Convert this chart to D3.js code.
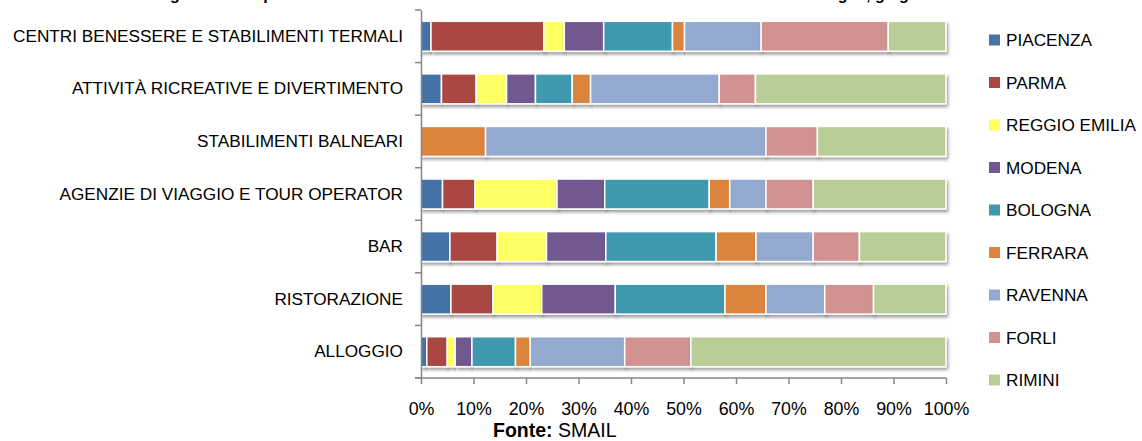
<!DOCTYPE html>
<html>
<head>
<meta charset="utf-8">
<script src="https://cdn.jsdelivr.net/npm/d3@7"></script>
<style>
  html, body { margin: 0; padding: 0; background: #fff; }
  svg { display: block; }
</style>
</head>
<body>
<svg id="chart" width="1142" height="441"></svg>
<script>
// Sectors (top to bottom) and provinces (stack order, left to right)
const categories = [
  "CENTRI BENESSERE E STABILIMENTI TERMALI",
  "ATTIVITÀ RICREATIVE E DIVERTIMENTO",
  "STABILIMENTI BALNEARI",
  "AGENZIE DI VIAGGIO E TOUR OPERATOR",
  "BAR",
  "RISTORAZIONE",
  "ALLOGGIO"
];
const provinces = ["PIACENZA", "PARMA", "REGGIO EMILIA", "MODENA", "BOLOGNA", "FERRARA", "RAVENNA", "FORLI", "RIMINI"];

// Share (%) of each sector's firms by province, in category order
const piacenza = [1.9, 3.9, 0.0, 4.1, 5.5, 5.7, 1.1];
const parma    = [21.5, 6.6, 0.0, 6.2, 9.0, 8.0, 3.9];
const reggio   = [3.9, 5.8, 0.0, 15.6, 9.4, 9.3, 1.5];
const modena   = [7.5, 5.5, 0.0, 9.1, 11.3, 14.0, 3.2];
const bologna  = [13.1, 7.0, 0.0, 19.9, 21.0, 20.9, 8.3];
const ferrara  = [2.3, 3.5, 12.3, 3.9, 7.6, 7.8, 2.8];
const ravenna  = [14.6, 24.5, 53.4, 6.9, 10.9, 11.2, 18.0];
const forli    = [24.2, 6.9, 9.8, 9.0, 8.8, 9.3, 12.6];
const rimini   = [11.0, 36.3, 24.5, 25.3, 16.5, 13.8, 48.6];

const xTicks = [0, 10, 20, 30, 40, 50, 60, 70, 80, 90, 100];
const colors = ["#4572A7", "#AA4643", "#FFFF66", "#71588F", "#4198AF", "#DB843D", "#93A9CF", "#D19392", "#B9CD96"];

const seriesValues = [piacenza, parma, reggio, modena, bologna, ferrara, ravenna, forli, rimini];
const rows = categories.map((c, i) => {
  const r = { category: c };
  provinces.forEach((p, j) => { r[p] = seriesValues[j][i]; });
  return r;
});
const stacked = d3.stack().keys(provinces)(rows);

const svg = d3.select("#chart");
const font = "'Liberation Sans', Arial, sans-serif";

const defs = svg.append("defs");
const sh = defs.append("filter").attr("id", "shadow")
  .attr("x", "-5%").attr("y", "-30%").attr("width", "115%").attr("height", "180%");
sh.append("feDropShadow").attr("dx", 1.5).attr("dy", 2.5).attr("stdDeviation", 1.6)
  .attr("flood-color", "#000").attr("flood-opacity", 0.38);
const gsh = defs.append("filter").attr("id", "gshadow")
  .attr("x", "-200%").attr("y", "-5%").attr("width", "500%").attr("height", "110%");
gsh.append("feDropShadow").attr("dx", 1.5).attr("dy", 1.5).attr("stdDeviation", 1.2)
  .attr("flood-color", "#000").attr("flood-opacity", 0.2);

const plotL = 421, plotR = 946, plotT = 10, plotB = 378;
const x = d3.scaleLinear().domain([0, 100]).range([plotL, plotR]);
const y = d3.scaleBand().domain(categories).range([plotT, plotB]).paddingInner(0.43).paddingOuter(0.215);

// Title (sits at the very top edge)
svg.append("text")
  .attr("x", 562).attr("y", 0)
  .attr("text-anchor", "middle")
  .attr("font-family", font).attr("font-weight", "bold").attr("font-size", 16)
  .text("Figura 10 – Imprese attive nel settore turistico secondo la sede territoriale in Emilia-Romagna, giugno 2012");

// Vertical gridlines
svg.append("g").selectAll("line")
  .data(xTicks.filter(t => t > 0))
  .join("line")
  .attr("x1", d => x(d)).attr("x2", d => x(d))
  .attr("y1", plotT).attr("y2", plotB)
  .attr("stroke", "#d9d9d9").attr("stroke-width", 1.5)
  .attr("filter", "url(#gshadow)");

// Stacked bars
svg.append("g").selectAll("g")
  .data(stacked)
  .join("g")
  .attr("fill", (d, i) => colors[i])
  .selectAll("rect")
  .data(d => d.filter(s => s[1] - s[0] > 0))
  .join("rect")
  .attr("x", d => x(d[0]))
  .attr("y", d => y(d.data.category))
  .attr("width", d => x(d[1]) - x(d[0]))
  .attr("height", y.bandwidth())
  .attr("stroke", "#fff").attr("stroke-width", 1.5)
  .attr("filter", "url(#shadow)");

// Category axis
const yAxis = d3.axisLeft(y).tickSize(0).tickPadding(18);
const gy = svg.append("g").attr("transform", `translate(${plotL},0)`).call(yAxis);
gy.select(".domain").attr("stroke", "#868686").attr("stroke-width", 1.5);
gy.selectAll("text").attr("font-family", font).attr("font-size", 17.2).attr("fill", "#000");
// ticks at band boundaries
const step = y.step();
const bounds = d3.range(categories.length + 1).map(i => plotT + i * step);
gy.selectAll(".bnd").data(bounds).join("line").attr("class", "bnd")
  .attr("x1", -6).attr("x2", 0).attr("y1", d => d).attr("y2", d => d)
  .attr("stroke", "#868686").attr("stroke-width", 1.5);

// Value axis
const xAxis = d3.axisBottom(x).tickValues(xTicks).tickFormat(d => d + "%").tickSize(6).tickPadding(18);
const gx = svg.append("g").attr("transform", `translate(0,${plotB})`).call(xAxis);
gx.select(".domain").attr("stroke", "#868686").attr("stroke-width", 1.5).attr("d", `M${plotL - 6},0H${plotR}`);
gx.selectAll(".tick line").attr("stroke", "#868686").attr("stroke-width", 1.5);
gx.selectAll("text").attr("font-family", font).attr("font-size", 17.8).attr("fill", "#000");

// Source note
const src = svg.append("text").attr("x", 493).attr("y", 437)
  .attr("font-family", font).attr("font-size", 19.5).attr("fill", "#000");
src.append("tspan").attr("font-weight", "bold").text("Fonte:");
src.append("tspan").text(" SMAIL");

// Legend
const lg = svg.append("g").selectAll("g")
  .data(provinces)
  .join("g")
  .attr("transform", (d, i) => `translate(989,${40 + i * 42.5})`);
lg.append("rect").attr("x", 0).attr("y", -5.5).attr("width", 11).attr("height", 11)
  .attr("fill", (d, i) => colors[i]);
lg.append("text").attr("x", 17).attr("y", 0).attr("dy", "0.36em")
  .attr("font-family", font).attr("font-size", 17.2).attr("fill", "#000")
  .text(d => d);
</script>
</body>
</html>
